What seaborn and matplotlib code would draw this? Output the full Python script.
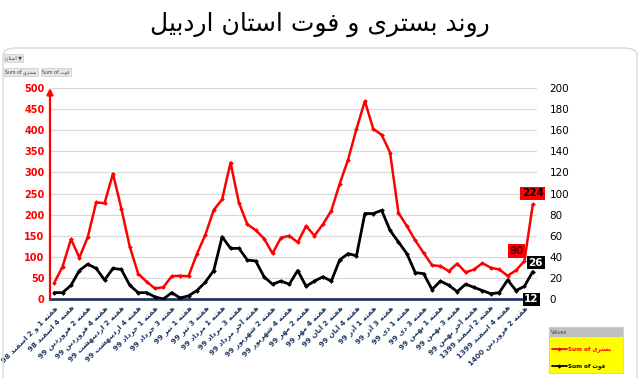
import numpy as np
import pandas as pd
import matplotlib
matplotlib.use('Agg')
import matplotlib.pyplot as plt
import seaborn as sns
from matplotlib.patches import FancyBboxPatch, Rectangle
from matplotlib.lines import Line2D

# weekly values, Esfand 98 -> Farvardin 1400
hospitalized = [38, 77, 142, 98, 147, 229, 227, 297, 214, 124, 60, 41, 25, 28, 54, 55,
                54, 107, 152, 211, 236, 323, 228, 177, 163, 143, 108, 145, 150, 134,
                173, 150, 177, 209, 273, 330, 403, 469, 403, 389, 347, 204, 173, 139,
                109, 80, 78, 66, 84, 63, 70, 85, 74, 70, 55, 68, 90, 224]
deaths = [6, 6, 13, 27, 33, 29, 18, 29, 28, 13, 6, 6, 2, 0, 6, 1, 3, 8, 16, 27, 59,
          48, 48, 37, 36, 21, 14, 17, 14, 27, 12, 17, 21, 17, 37, 43, 41, 81, 81, 84,
          65, 54, 43, 25, 24, 9, 17, 13, 7, 14, 11, 8, 5, 6, 18, 8, 12, 26]

# only every second week is labelled on the axis
tick_labels = [
    'هفته 1 و 2 اسفند 98', 'هفته 4 اسفند 98', 'هفته 2 فروردین 99', 'هفته 4 فروردین 99',
    'هفته 2 اردیبهشت 99', 'هفته 4 اردیبهشت 99', 'هفته 1 خرداد 99', 'هفته 3 خرداد 99',
    'هفته 1 تیر 99', 'هفته 3 تیر 99', 'هفته 1 مرداد 99', 'هفته 3 مرداد 99',
    'هفته آخر مرداد 99', 'هفته 2 شهریور 99', 'هفته 4 شهریور 99', 'هفته 2 مهر 99',
    'هفته 4 مهر 99', 'هفته 2 آبان 99', 'هفته 4 آبان 99', 'هفته 1 آذر 99',
    'هفته 3 آذر 99', 'هفته 1 دی 99', 'هفته 3 دی 99', 'هفته 1 بهمن 99',
    'هفته 3 بهمن 99', 'هفته آخر بهمن 99', 'هفته 2 اسفند 1399', 'هفته 4 اسفند 1399',
    'هفته 2 فروردین 1400',
]
left_ticks = list(range(0, 501, 50))
right_ticks = list(range(0, 201, 20))

title = 'روند بستری و فوت استان اردبیل'
hosp_name = 'بستری'
death_name = 'فوت'
province = 'استان'

# --- tiny Persian shaper: matplotlib does no joining / RTL ---
FORMS = {  # isolated, final, initial, medial
    'ا': ('\ufe8d', '\ufe8e', None, None),
    'آ': ('\ufe81', '\ufe82', None, None),
    'د': ('\ufea9', '\ufeaa', None, None),
    'ذ': ('\ufeab', '\ufeac', None, None),
    'ر': ('\ufead', '\ufeae', None, None),
    'ز': ('\ufeaf', '\ufeb0', None, None),
    'و': ('\ufeed', '\ufeee', None, None),
    'ب': ('\ufe8f', '\ufe90', '\ufe91', '\ufe92'),
    'ت': ('\ufe95', '\ufe96', '\ufe97', '\ufe98'),
    'خ': ('\ufea5', '\ufea6', '\ufea7', '\ufea8'),
    'س': ('\ufeb1', '\ufeb2', '\ufeb3', '\ufeb4'),
    'ش': ('\ufeb5', '\ufeb6', '\ufeb7', '\ufeb8'),
    'ف': ('\ufed1', '\ufed2', '\ufed3', '\ufed4'),
    'ل': ('\ufedd', '\ufede', '\ufedf', '\ufee0'),
    'م': ('\ufee1', '\ufee2', '\ufee3', '\ufee4'),
    'ن': ('\ufee5', '\ufee6', '\ufee7', '\ufee8'),
    'ه': ('\ufee9', '\ufeea', '\ufeeb', '\ufeec'),
    'ی': ('\ufbfc', '\ufbfd', '\ufbfe', '\ufbff'),
}


def shape_word(w):
    w = w.replace('\u064a', '\u06cc')
    out = []
    for i, ch in enumerate(w):
        f = FORMS.get(ch)
        if f is None:
            out.append(ch)
            continue
        prev = w[i - 1] if i > 0 else ''
        nxt = w[i + 1] if i + 1 < len(w) else ''
        jp = prev in FORMS and FORMS[prev][2] is not None
        jn = f[2] is not None and nxt in FORMS
        if jp and jn:
            out.append(f[3])
        elif jp:
            out.append(f[1])
        elif jn:
            out.append(f[2])
        else:
            out.append(f[0])
    return ''.join(reversed(out))


def fa(s):
    return ' '.join(shape_word(w) if any(c in FORMS for c in w) else w
                    for w in reversed(s.split()))


df = pd.DataFrame({'week': np.arange(len(hospitalized)),
                   'hosp': hospitalized, 'death': deaths})

sns.set_style('white')
plt.rcParams['font.family'] = ['DejaVu Sans']

fig = plt.figure(figsize=(6.4, 3.78), dpi=100)
ax = fig.add_axes([50 / 640, 1 - 299 / 378, 487 / 640, 211 / 378])
ax2 = ax.twinx()

sns.lineplot(data=df, x='week', y='hosp', ax=ax, color='#FF0000', linewidth=1.8,
             marker='D', markersize=2.4, markeredgewidth=0)
sns.lineplot(data=df, x='week', y='death', ax=ax2, color='#000000', linewidth=2,
             marker='D', markersize=2.4, markeredgewidth=0)

ax.set_xlim(-0.5, len(hospitalized) - 0.5)
ax.set_ylim(0, 500)
ax2.set_ylim(0, 200)
ax.set_yticks(left_ticks)
ax2.set_yticks(right_ticks)
ax.set_xticks(np.arange(0, len(hospitalized), 2))
ax.set_xticklabels([fa(t) for t in tick_labels], rotation=45, ha='right', va='top',
                   rotation_mode='anchor', fontsize=5.2, fontweight='bold', color='#1F3864')
ax.set_xlabel('')
ax.set_ylabel('')
ax2.set_ylabel('')
for t in ax.get_yticklabels():
    t.set_color('#FF0000')
    t.set_fontweight('bold')
ax.tick_params(axis='y', length=0, pad=4, labelsize=7)
ax.tick_params(axis='x', length=0, pad=4)
ax2.tick_params(axis='y', length=0, pad=9, labelsize=7.5, labelcolor='#000000')

ax.yaxis.grid(True, color='#D9D9D9', linewidth=0.9)
ax.set_axisbelow(True)
for a in (ax, ax2):
    for s in ('top', 'right', 'left'):
        a.spines[s].set_visible(False)
ax2.spines['bottom'].set_visible(False)
ax.spines['bottom'].set_color('#1F3864')
ax.spines['bottom'].set_linewidth(2)

# red left axis with an arrow head
ax.annotate('', xy=(0, 1.0), xytext=(0, 0), xycoords='axes fraction',
            arrowprops=dict(arrowstyle='-|>', color='#FF0000', lw=1.6, mutation_scale=9,
                            shrinkA=0, shrinkB=0))

# data labels
last = len(hospitalized) - 1
lab = dict(textcoords='offset pixels', ha='center', va='center', fontsize=7.5,
           fontweight='bold')
ax.annotate(str(hospitalized[last]), (last, hospitalized[last]), xytext=(0, 11),
            color='#000000', bbox=dict(boxstyle='square,pad=0.15', fc='#FF0000', ec='none'), **lab)
ax.annotate(str(hospitalized[last - 1]), (last - 1, hospitalized[last - 1]), xytext=(-8, 10),
            color='#600000', bbox=dict(boxstyle='square,pad=0.15', fc='#FF0000', ec='none'), **lab)
ax2.annotate(str(deaths[last]), (last, deaths[last]), xytext=(3, 9),
             color='#FFFFFF', bbox=dict(boxstyle='square,pad=0.15', fc='#000000', ec='none'), **lab)
ax2.annotate(str(deaths[last - 1]), (last - 1, deaths[last - 1]), xytext=(7, -13),
             color='#FFFFFF', bbox=dict(boxstyle='square,pad=0.15', fc='#000000', ec='none'), **lab)

# title and chart frame
fig.text(0.5, 1 - 24 / 378, fa(title), ha='center', va='center', fontsize=18, color='#000000')
fig.patches.append(FancyBboxPatch((3 / 640, -0.1), 634 / 640, 1 - 48 / 378 + 0.1,
                                  boxstyle='round,pad=0,rounding_size=0.02',
                                  transform=fig.transFigure, fill=False,
                                  ec='#D9D9D9', lw=1, figure=fig))

# pivot field buttons
btn = dict(boxstyle='square,pad=0.3', fc='#E7E6E6', ec='#BFBFBF', lw=0.4)
fig.text(5 / 640, 1 - 58 / 378, fa(province) + ' \u25bc', fontsize=3.4, color='#404040',
         va='center', bbox=btn)
fig.text(5 / 640, 1 - 72 / 378, 'Sum of ' + fa(hosp_name), fontsize=3.4, color='#404040',
         va='center', bbox=btn)
fig.text(42 / 640, 1 - 72 / 378, 'Sum of ' + fa(death_name), fontsize=3.4, color='#404040',
         va='center', bbox=btn)

# yellow legend box
lax = fig.add_axes([549 / 640, 1 - 373 / 378, 74 / 640, 46 / 378])
lax.set_facecolor('#FFFF00')
lax.set_xlim(0, 1)
lax.set_ylim(0, 1)
lax.set_xticks([])
lax.set_yticks([])
for s in lax.spines.values():
    s.set_color('#E6E600')
    s.set_linewidth(0.6)
lax.add_patch(Rectangle((0, 0.78), 1, 0.22, fc='#BFBFBF', ec='none'))
lax.text(0.03, 0.89, 'Values', fontsize=3.6, color='#404040', va='center')
for yy, col, name in ((0.52, '#FF0000', hosp_name), (0.16, '#000000', death_name)):
    lax.add_line(Line2D([0.04, 0.24], [yy, yy], color=col, lw=1.3))
    lax.add_line(Line2D([0.14], [yy], color=col, marker='D', markersize=2.2,
                        markeredgewidth=0))
    lax.text(0.25, yy, 'Sum of ' + fa(name), fontsize=4.1, fontweight='bold',
             color=col, va='center')

fig.savefig('out.png', dpi=100, facecolor='white')
